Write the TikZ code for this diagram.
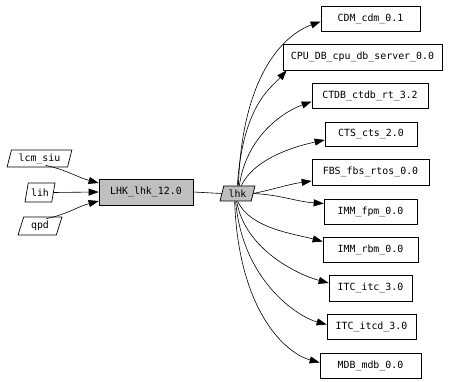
\documentclass[tikz,border=0pt]{standalone}
\usepackage{fontspec}
\setmonofont{DejaVu Sans Mono}
\usetikzlibrary{shapes.geometric,arrows.meta}
\begin{document}
\begin{tikzpicture}[x=1pt,y=-1pt,
  every node/.style={font=\ttfamily\fontsize{9.9}{11}\selectfont, inner sep=0pt},
  box/.style={draw, line width=0.7pt, rectangle},
  para/.style={draw, line width=0.7pt, trapezium, trapezium left angle=72, trapezium right angle=108, trapezium stretches=true},
  arr/.style={line width=0.6pt, -{Triangle[length=10pt,width=7pt]}},
  ln/.style={line width=0.6pt}
]
\path[use as bounding box] (0,0) rectangle (466,382);

% left inputs
\node[para, minimum width=65, minimum height=17] (lcm) at (39.5,158.5) {lcm\_siu};
\node[para, minimum width=30, minimum height=19] (lih) at (40,192.5) {lih};
\node[para, minimum width=44, minimum height=18] (qpd) at (40,226) {qpd};

\node[box, fill=lightgray, minimum width=94, minimum height=26] (lhkb) at (146,192) {LHK\_lhk\_12.0};
\node[para, fill=lightgray, minimum width=35, minimum height=15] (lhk) at (237.5,193.5) {lhk};

% right boxes
\node[box, minimum width=99, minimum height=25] (cdm) at (370.5,18.5) {CDM\_cdm\_0.1};
\node[box, minimum width=159, minimum height=26] (cpu) at (362.5,57) {CPU\_DB\_cpu\_db\_server\_0.0};
\node[box, minimum width=116, minimum height=25] (ctdb) at (370,95.5) {CTDB\_ctdb\_rt\_3.2};
\node[box, minimum width=92, minimum height=24] (cts) at (371,134) {CTS\_cts\_2.0};
\node[box, minimum width=117, minimum height=26] (fbs) at (370.5,172) {FBS\_fbs\_rtos\_0.0};
\node[box, minimum width=93, minimum height=25] (fpm) at (370.5,211.5) {IMM\_fpm\_0.0};
\node[box, minimum width=95, minimum height=25] (rbm) at (370.5,249.5) {IMM\_rbm\_0.0};
\node[box, minimum width=83, minimum height=26] (itc) at (370.5,288) {ITC\_itc\_3.0};
\node[box, minimum width=89, minimum height=25] (itcd) at (371.5,326.5) {ITC\_itcd\_3.0};
\node[box, minimum width=101, minimum height=25] (mdb) at (370.5,365.5) {MDB\_mdb\_0.0};

% left edges
\draw[arr] ([xshift=-3pt,yshift=2pt]lcm.south east) to[out=-12,in=165] ([yshift=9pt]lhkb.west);
\draw[arr] (lih.east) -- (lhkb.west);
\draw[arr] ([xshift=-3pt,yshift=-2pt]qpd.north east) to[out=12,in=195] ([yshift=-9pt]lhkb.west);

\draw[ln] (lhkb.east) -- (lhk.west);

% right edges
\draw[arr] ([xshift=-7pt]lhk.north east) to[out=88,in=200,out distance=110,in distance=40] ([yshift=-3pt]cdm.west);
\draw[arr] ([xshift=-8pt]lhk.north east) to[out=86,in=228,out distance=80,in distance=25] ([xshift=4pt]cpu.south west);
\draw[arr] ([xshift=-6pt]lhk.north east) to[out=82,in=200,out distance=50,in distance=30] ([yshift=-6pt]ctdb.west);
\draw[arr] ([xshift=-4pt]lhk.north east) to[out=65,in=192,out distance=30,in distance=30] ([yshift=-6pt]cts.west);
\draw[arr] (lhk.east) to[out=12,in=188] ([yshift=-9pt]fbs.west);
\draw[arr] (lhk.east) to[out=-3,in=176] ([yshift=8pt]fpm.west);
\draw[arr] ([xshift=8pt]lhk.south west) to[out=-65,in=165,out distance=30,in distance=30] ([yshift=8pt]rbm.west);
\draw[arr] ([xshift=7pt]lhk.south west) to[out=-80,in=165,out distance=50,in distance=30] ([yshift=5pt]itc.west);
\draw[arr] ([xshift=6pt]lhk.south west) to[out=-85,in=165,out distance=80,in distance=30] ([yshift=2pt]itcd.west);
\draw[arr] ([xshift=5pt]lhk.south west) to[out=-88,in=165,out distance=110,in distance=35] ([yshift=3pt]mdb.west);
\end{tikzpicture}
\end{document}
